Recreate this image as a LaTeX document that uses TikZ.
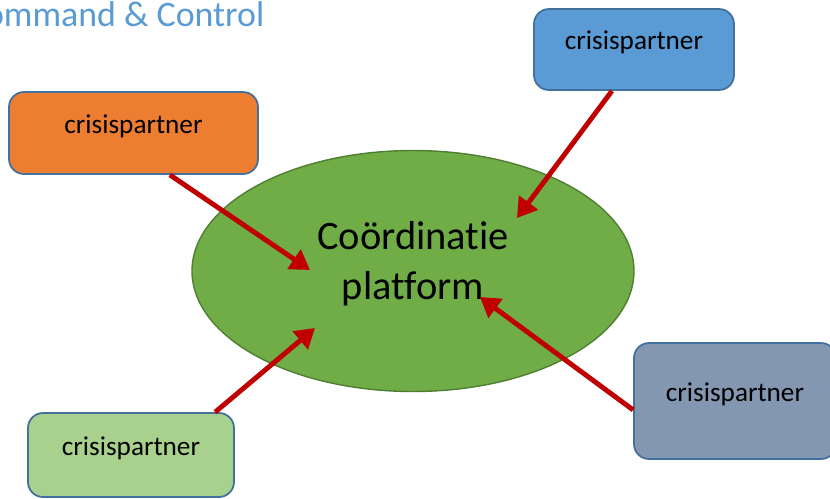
\documentclass[tikz,border=0pt]{standalone}
\usepackage{fontspec}
\setmainfont[Ligatures=NoCommon]{Carlito}
\usepackage{tikz}
\usetikzlibrary{arrows.meta, shapes.geometric}

\definecolor{kopblauw}{HTML}{5B9BD5}
\definecolor{randblauw}{HTML}{41719C}
\definecolor{oranje}{HTML}{ED7D31}
\definecolor{hemel}{HTML}{5B9BD5}
\definecolor{lichtgroen}{HTML}{A9D18E}
\definecolor{grijsblauw}{HTML}{8497B0}
\definecolor{gras}{HTML}{70AD47}
\definecolor{donkergras}{HTML}{507E32}
\definecolor{pijlrood}{HTML}{C00000}

\begin{document}
\begin{tikzpicture}[
        partner/.style={draw=randblauw, line width=0.5pt, rounded corners=0.15cm,
            inner sep=0pt, text height=0.15cm, text depth=0.15cm,
            font=\fontsize{7.75}{9}\selectfont},
        feed/.style={pijlrood, line width=1.4pt, -{Triangle[length=5.5pt, width=6.5pt]}}
    ]
            \useasboundingbox (0,0) rectangle (8.30,-4.98);
            \node[kopblauw, anchor=base east, inner sep=0pt, font=\fontsize{10.2}{12}\selectfont]
                (kop) at (2.65,-0.267) {Command \& Control};
            % coordinatie platform
            \node[ellipse, draw=donkergras, fill=gras, line width=0.4pt, inner sep=0pt,
                minimum width=4.42cm, minimum height=2.41cm, align=center, text depth=0.22cm,
                font=\fontsize{11.5}{14.2}\selectfont] (platform) at (4.13,-2.71) {Coördinatie\\platform};
            % crisispartners
            \node[partner, fill=oranje, minimum width=2.49cm, minimum height=0.82cm] (oranje) at (1.335,-1.33) {crisispartner};
            \node[partner, fill=hemel, minimum width=2.00cm, minimum height=0.81cm] (blauw) at (6.34,-0.495) {crisispartner};
            \node[partner, fill=lichtgroen, minimum width=2.06cm, minimum height=0.84cm] (groen) at (1.31,-4.55) {crisispartner};
            \node[partner, fill=grijsblauw, minimum width=2.02cm, minimum height=1.16cm] (grijs) at (7.35,-4.01) {crisispartner};
            % pijlpunten
            \coordinate (h1) at (3.10,-2.70);
            \coordinate (h2) at (5.17,-2.18);
            \coordinate (h3) at (3.15,-3.28);
            \coordinate (h4) at (4.80,-2.97);
            \draw[feed] (oranje.-49) -- (h1);
            \draw[feed] (blauw.-118.5) -- (h2);
            \draw[feed] (groen.27) -- (h3);
            \draw[feed] (grijs.185) -- (h4);
            %\draw[red] (0,0) rectangle (8.30,-4.98);
        \end{tikzpicture}
\end{document}
